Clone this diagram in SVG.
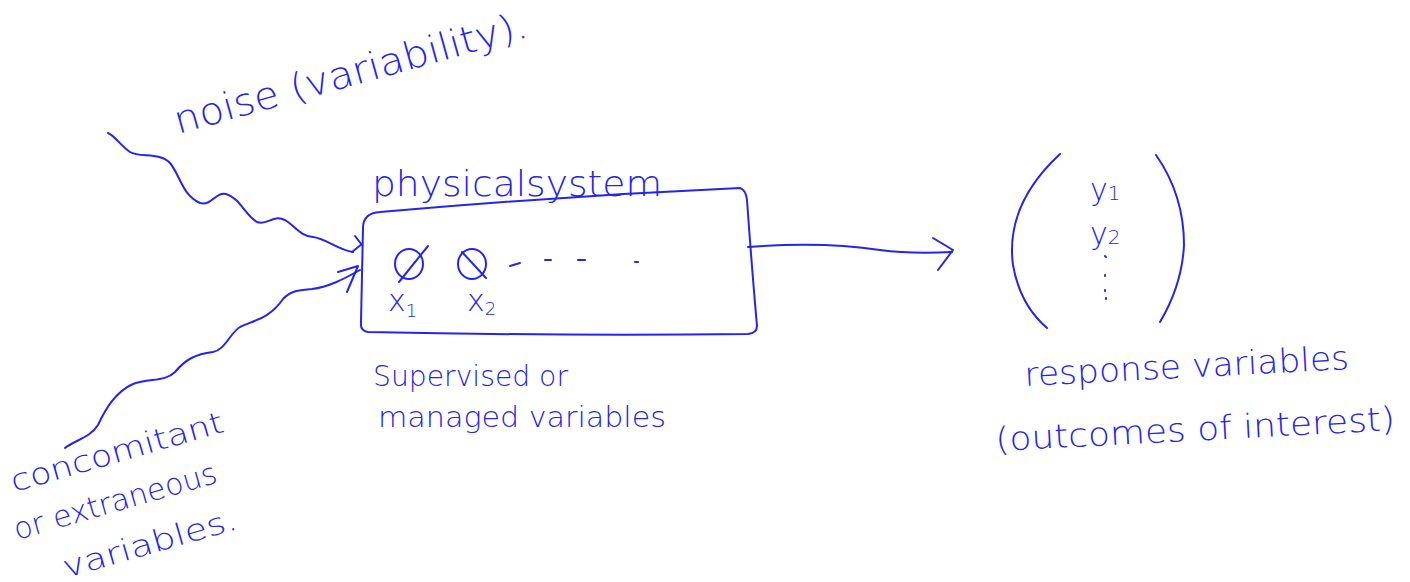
<svg xmlns="http://www.w3.org/2000/svg" width="1410" height="582" viewBox="0 0 1410 582">
<style>
.s{fill:none;stroke:#2424ec;stroke-width:2;stroke-linecap:round;stroke-linejoin:round}
.t{fill:#2424ec;font-family:"DejaVu Sans","Liberation Sans",sans-serif;font-weight:300}
</style>
<rect width="1410" height="582" fill="#fff"/>
<g id="noise-label"><text class="t" font-size="38" transform="translate(178,134) rotate(-15.5)" textLength="365" lengthAdjust="spacingAndGlyphs">noise (variability).</text></g>
<g id="physical-system">
<text class="t" font-size="36" x="372" y="196" textLength="290" lengthAdjust="spacingAndGlyphs">physicalsystem</text>
<path class="s" d="M363,228 Q363,213 380,212 Q560,196 740,188 Q746,190 747,200 Q752,270 757,326 Q757,333 748,334 Q560,336 368,332 Q360,331 361,322 Q362,270 363,228 Z"/>
<ellipse class="s" cx="409" cy="264" rx="14" ry="15"/>
<path class="s" d="M399,282 L428,246"/>
<ellipse class="s" cx="472" cy="264" rx="14" ry="15"/>
<path class="s" d="M462,252 L486,278"/>
<path class="s" d="M510,266 L520,263 M545,260 L551,260 M578,260 L585,260 M635,262 L638,262"/>
<text class="t" font-size="30" x="388" y="311">x<tspan font-size="18" dy="6">1</tspan></text>
<text class="t" font-size="30" x="467" y="311">x<tspan font-size="18" dy="4">2</tspan></text>
<text class="t" font-size="29" x="373" y="386" textLength="195" lengthAdjust="spacingAndGlyphs">Supervised or</text>
<text class="t" font-size="29" x="378" y="427" textLength="288" lengthAdjust="spacingAndGlyphs">managed variables</text>
</g>
<g id="response">
<path class="s" d="M1060,154 Q1005,205 1013,265 Q1020,305 1047,328"/>
<path class="s" d="M1156,155 Q1184,195 1184,245 Q1182,285 1160,322"/>
<text class="t" font-size="30" x="1090" y="200">y<tspan font-size="20">1</tspan></text>
<text class="t" font-size="30" x="1090" y="244">y<tspan font-size="20">2</tspan></text>
<path class="s" d="M1105,256 L1106,257 M1105,275 L1105,276 M1105,290 L1105,291 M1106,298 L1106,299"/>
<text class="t" font-size="33" transform="translate(1025,386) rotate(-3)" textLength="325" lengthAdjust="spacingAndGlyphs">response variables</text>
<text class="t" font-size="33" transform="translate(996,451) rotate(-3)" textLength="400" lengthAdjust="spacingAndGlyphs">(outcomes of interest)</text>
</g>
<g id="extraneous-label">
<text class="t" font-size="30" transform="translate(14,492) rotate(-16)" textLength="220" lengthAdjust="spacingAndGlyphs">concomitant</text>
<text class="t" font-size="30" transform="translate(17,540) rotate(-16)" textLength="210" lengthAdjust="spacingAndGlyphs">or extraneous</text>
<text class="t" font-size="30" transform="translate(66,578) rotate(-16)" textLength="180" lengthAdjust="spacingAndGlyphs">variables.</text>
</g>
<g id="connectors">
<path class="s" d="M108,133 C115,136 120,145 130,152 C140,158 160,152 170,163 C180,175 182,195 200,203 C212,206 215,192 226,194 C240,198 245,215 257,222 C268,226 272,214 285,220 C295,226 300,236 313,237 C325,238 338,250 353,252"/>
<path class="s" d="M355,236 L362,245 M352,252 L362,244"/>
<path class="s" d="M65,448 C75,440 90,438 98,425 C105,410 115,392 133,384 C150,378 165,382 175,372 C185,360 195,354 213,352 C225,350 230,333 240,327 C255,320 270,318 283,299 C292,290 300,290 312,289 C328,287 342,280 360,270"/>
<path class="s" d="M338,272 L358,266 L347,292"/>
<path class="s" d="M748,247 C800,243 840,244 880,250 Q910,254 952,252"/>
<path class="s" d="M933,238 L953,250 L938,270"/>
</g>
</svg>
